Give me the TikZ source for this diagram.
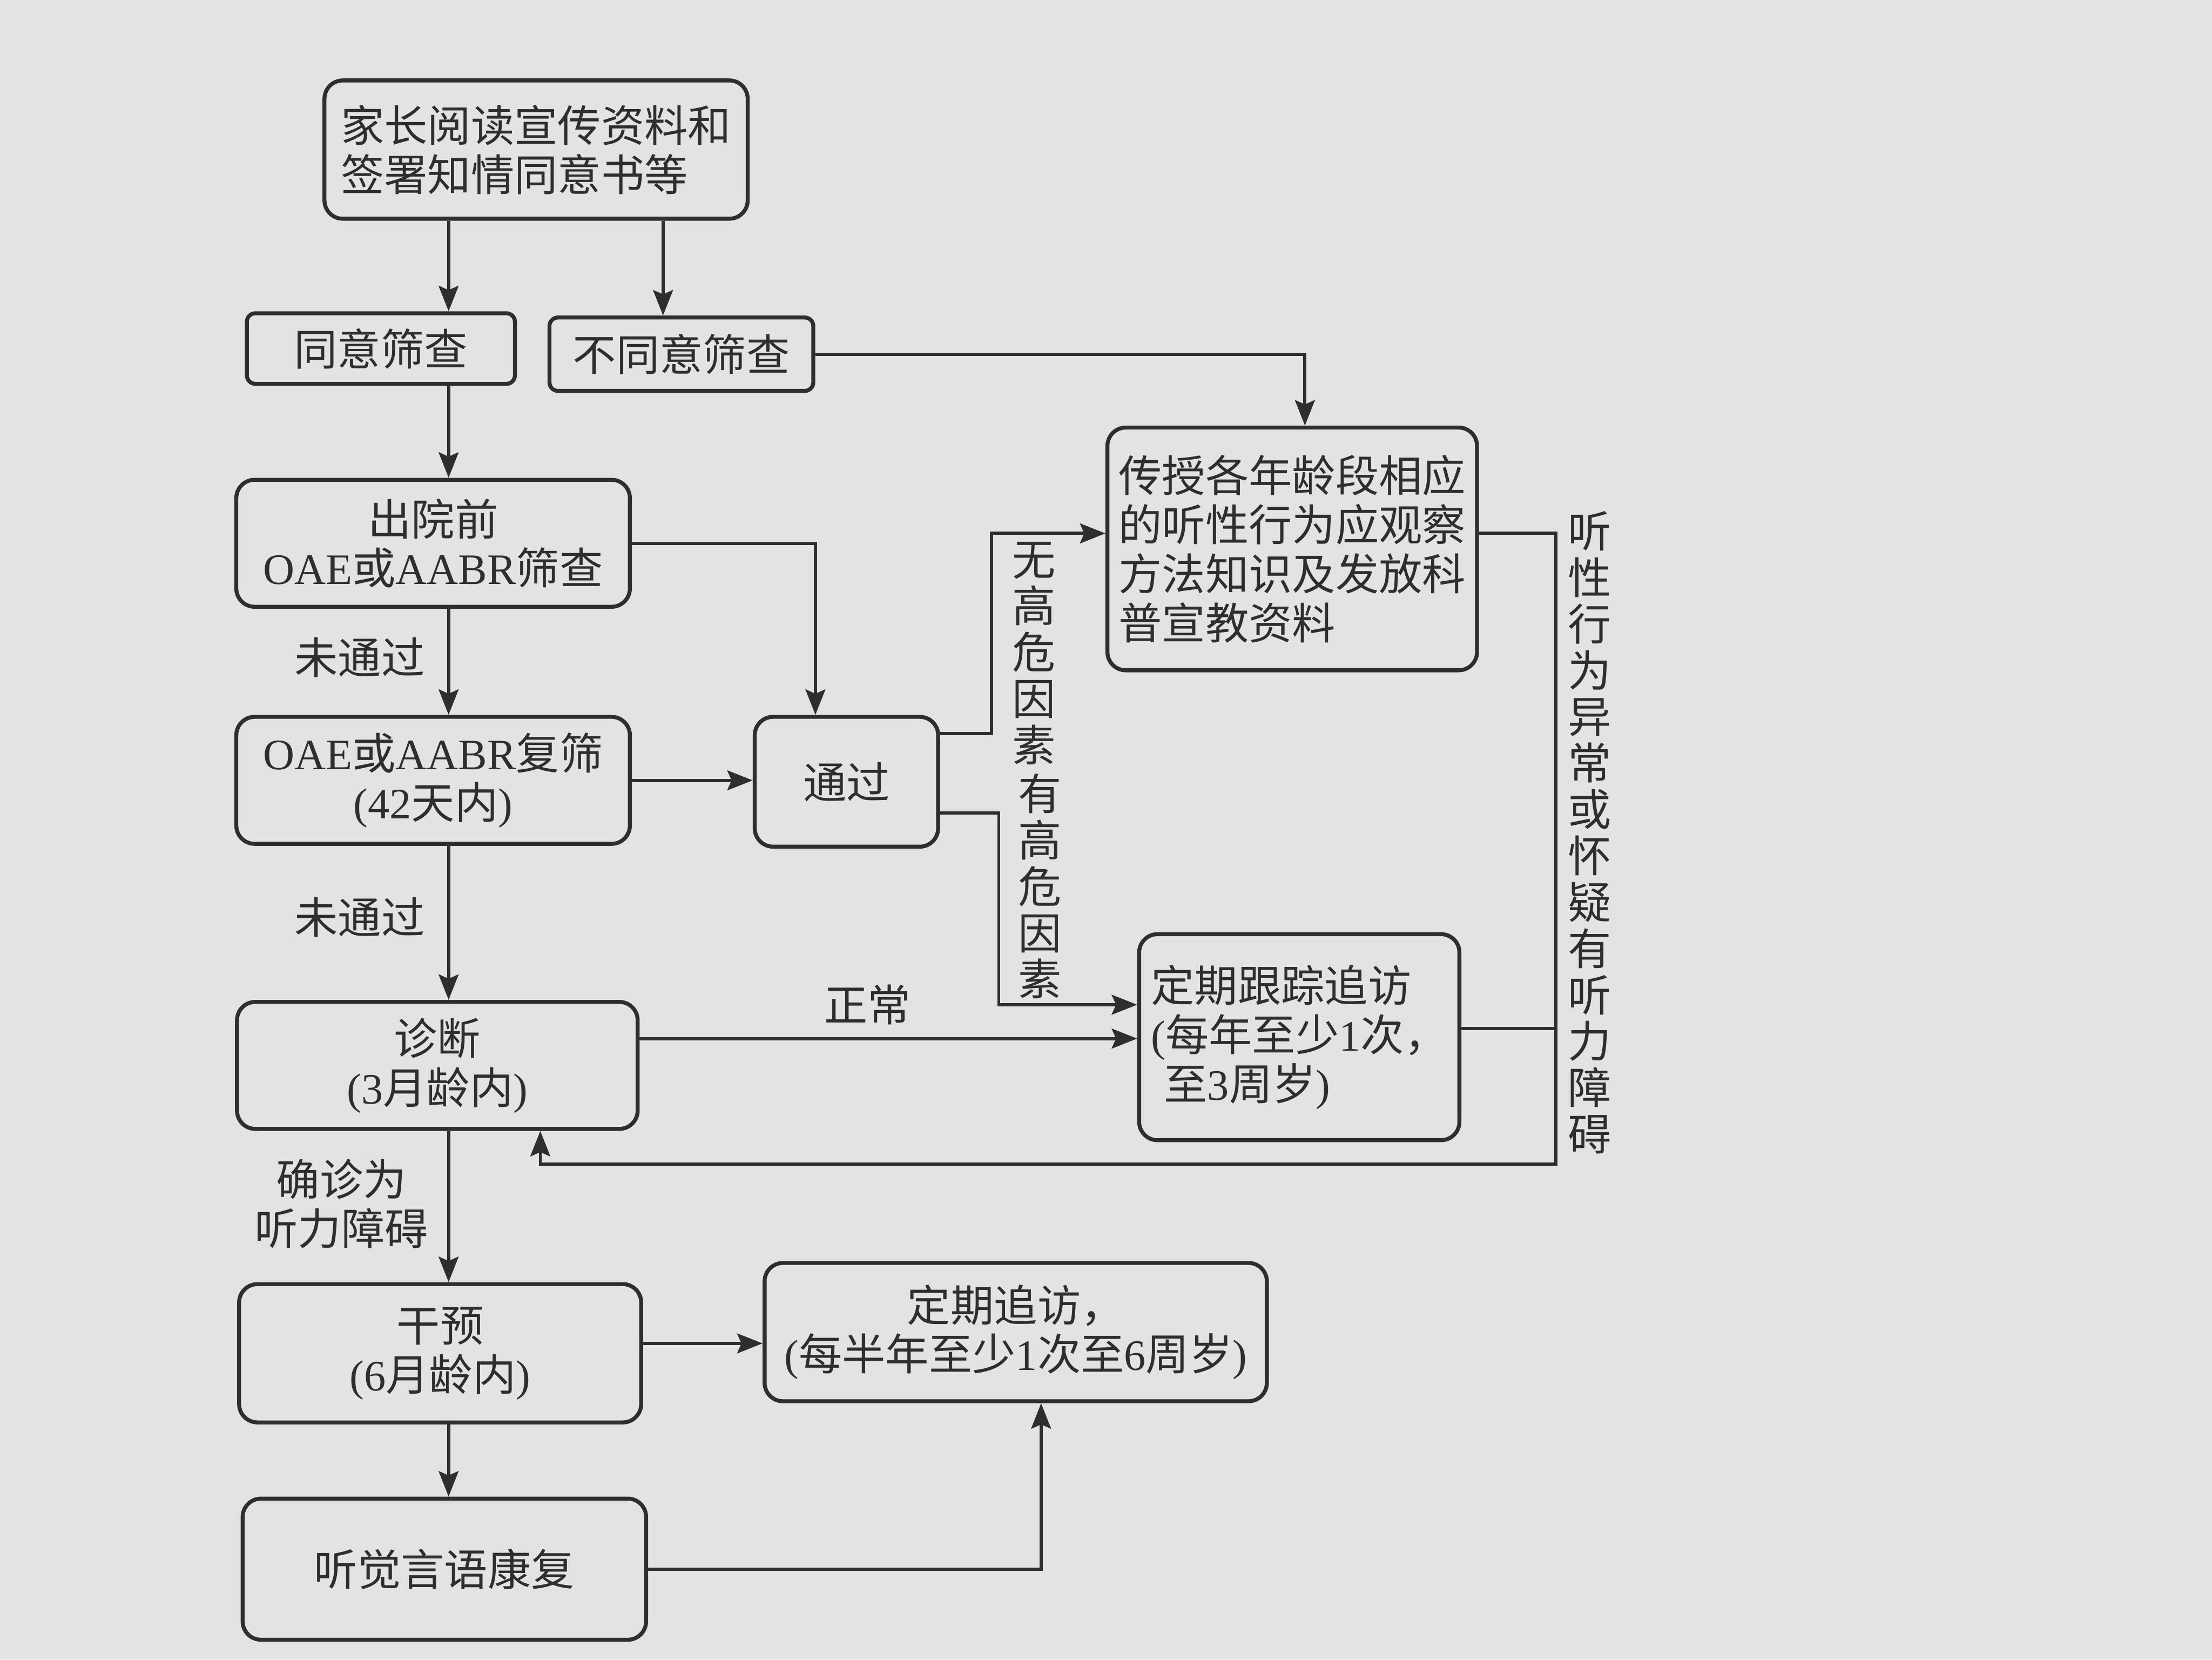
\documentclass[tikz,border=0pt]{standalone}
\usepackage{fontspec}
\setmainfont{Noto Sans CJK SC}
\newfontfamily\latf{Liberation Serif}
\newcommand{\ltn}[1]{{\latf #1}}
\usetikzlibrary{arrows.meta}
\definecolor{paper}{HTML}{E3E3E1}
\definecolor{ink}{HTML}{2E2E2E}
\tikzset{
  x=0.2mm, y=-0.2mm,
  box/.style={draw=ink, line width=1.6pt, rounded corners=2.6mm, text=ink,
    align=center, inner sep=0pt, font=\fontsize{17.5}{19.8}\selectfont},
  sbox/.style={box, rounded corners=1.2mm},
  lbl/.style={text=ink, inner sep=0pt, align=center, font=\fontsize{17.5}{19.8}\selectfont},
  vlbl/.style={text=ink, inner sep=0pt, align=center, font=\fontsize{17.5}{18.7}\selectfont},
  conn/.style={draw=ink, line width=1.3pt},
  arr/.style={conn, -{Stealth[length=3.6mm,width=2.8mm,inset=0.6mm]}}
}
\begin{document}
\begin{tikzpicture}
\useasboundingbox (0,0) rectangle (1568,1176);
\fill[paper] (0,0) rectangle (1568,1176);

% nodes
\node[box, align=left, minimum width=60mm, minimum height=19.6mm] (n1) at (380,106)
  {家长阅读宣传资料和\\签署知情同意书等};
\node[sbox, minimum width=38mm, minimum height=10mm] (agree) at (270,247) {同意筛查};
\node[sbox, minimum width=37.4mm, minimum height=10.4mm] (disagree) at (483,251) {不同意筛查};
\node[box, minimum width=55.8mm, minimum height=18mm] (before) at (307,385)
  {出院前\\\ltn{OAE}或\ltn{AABR}筛查};
\node[box, minimum width=55.8mm, minimum height=18mm] (rescreen) at (307,553)
  {\ltn{OAE}或\ltn{AABR}复筛\\\ltn{(42}天内\ltn{)}};
\node[box, minimum width=26mm, minimum height=18.4mm] (pass) at (600,554) {通过};
\node[box, align=left, minimum width=52.4mm, minimum height=34.4mm] (teach) at (916,389)
  {传授各年龄段相应\\的听性行为应观察\\方法知识及发放科\\普宣教资料};
\node[box, align=left, minimum width=45.4mm, minimum height=29.2mm] (track) at (921,735)
  {定期跟踪追访\\\ltn{(}每年至少\ltn{1}次，\\\hspace*{0.3em}至\ltn{3}周岁\ltn{)}};
\node[box, minimum width=56.8mm, minimum height=18mm] (diag) at (310,755)
  {诊断\\\ltn{(3}月龄内\ltn{)}};
\node[box, minimum width=57mm, minimum height=19.6mm] (interv) at (312,959)
  {干预\\\ltn{(6}月龄内\ltn{)}};
\node[box, minimum width=71.2mm, minimum height=19.6mm] (follow) at (720,944)
  {定期追访，\\\ltn{(}每半年至少\ltn{1}次至\ltn{6}周岁\ltn{)}};
\node[box, minimum width=57.2mm, minimum height=20mm] (rehab) at (315,1112) {听觉言语康复};

% labels
\node[lbl] (l1) at (255,466) {未通过};
\node[lbl] (l2) at (255,650) {未通过};
\node[lbl] (l3) at (615,712) {正常};
\node[lbl] (l4) at (242,853) {确诊为\\听力障碍};
\node[vlbl] (v1) at (733,463) {无\\高\\危\\因\\素};
\node[vlbl] (v2) at (737,628) {有\\高\\危\\因\\素};
\node[vlbl] (v3) at (1127,590) {听\\性\\行\\为\\异\\常\\或\\怀\\疑\\有\\听\\力\\障\\碍};

% guide coordinates
\coordinate (tx) at (318,0);
\coordinate (tx2) at (470,0);
\coordinate (tx3) at (925,0);
\coordinate (tx4) at (578,0);
\coordinate (vx1) at (703,0);
\coordinate (vx2) at (708,0);
\coordinate (lx) at (1103,0);
\coordinate (rx) at (383,0);
\coordinate (fx) at (738,0);
\coordinate (yA) at (0,520);
\coordinate (yB) at (0,378);
\coordinate (yC) at (0,576);
\coordinate (yD) at (0,712);
\coordinate (yE) at (0,736);
\coordinate (yF) at (0,825);
\coordinate (yG) at (0,729);
\coordinate (yH) at (0,952);

% connectors
\draw[arr] (n1.south -| tx) -- (agree.north -| tx);
\draw[arr] (n1.south -| tx2) -- (disagree.north -| tx2);
\draw[arr] (disagree.east) -- (disagree.east -| tx3) -- (teach.north -| tx3);
\draw[arr] (agree.south -| tx) -- (before.north -| tx);
\draw[arr] (before.east) -- (before.east -| tx4) -- (pass.north -| tx4);
\draw[arr] (before.south -| tx) -- (rescreen.north -| tx);
\draw[arr] (rescreen.east) -- (rescreen.east -| pass.west);
\draw[arr] (pass.east |- yA) -- (vx1 |- yA) -- (vx1 |- yB) -- (teach.west |- yB);
\draw[arr] (pass.east |- yC) -- (vx2 |- yC) -- (vx2 |- yD) -- (track.west |- yD);
\draw[arr] (rescreen.south -| tx) -- (diag.north -| tx);
\draw[arr] (diag.east |- yE) -- (track.west |- yE);
\draw[arr] (teach.east |- yB) -- (lx |- yB) -- (lx |- yF) -- (rx |- yF) -- (diag.south -| rx);
\draw[conn] (track.east |- yG) -- (lx |- yG);
\draw[arr] (diag.south -| tx) -- (interv.north -| tx);
\draw[arr] (interv.east |- yH) -- (follow.west |- yH);
\draw[arr] (interv.south -| tx) -- (rehab.north -| tx);
\draw[arr] (rehab.east) -- (rehab.east -| fx) -- (follow.south -| fx);
\end{tikzpicture}
\end{document}
